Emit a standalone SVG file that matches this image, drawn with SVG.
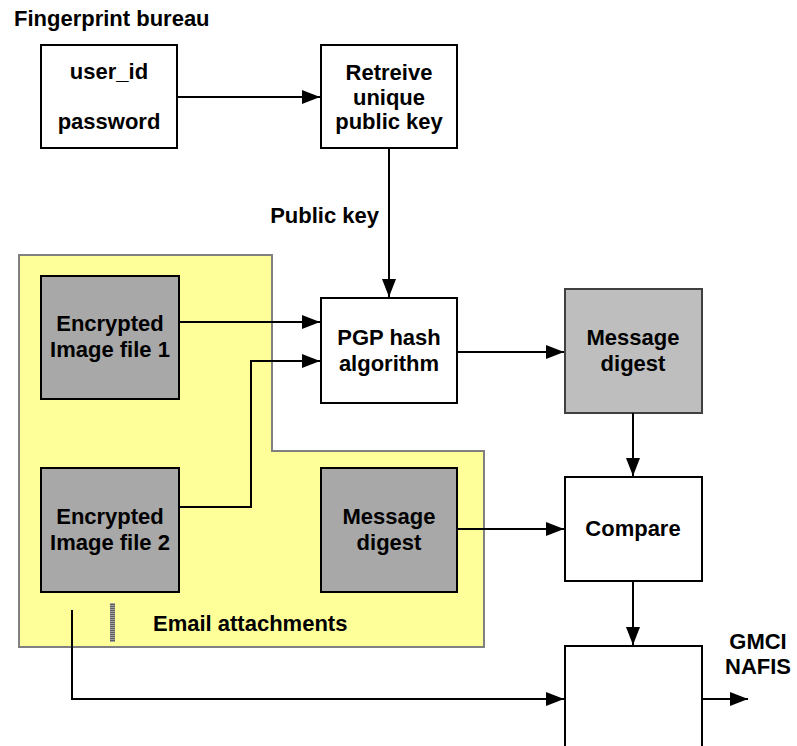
<svg xmlns="http://www.w3.org/2000/svg" width="797" height="746" viewBox="0 0 797 746">
<defs>
<style>
text{font-family:"Liberation Sans",Arial,sans-serif;font-weight:bold;font-size:22px;fill:#000}
.c{text-anchor:middle}
.box{fill:#fff;stroke:#000;stroke-width:2}
.enc{fill:#a8a8a8;stroke:#000;stroke-width:2}
.md{fill:#bebebe;stroke:#404040;stroke-width:2}
.ln{fill:none;stroke:#000;stroke-width:2}
</style>
<marker id="ah" viewBox="0 0 18 14" refX="18" refY="7" markerWidth="18" markerHeight="14" markerUnits="userSpaceOnUse" orient="auto">
<path d="M0,0 L18,7 L0,14 Z" fill="#000"/>
</marker>
<pattern id="hatch" width="5" height="2" patternUnits="userSpaceOnUse">
<rect width="5" height="2" fill="#a0a0a0"/>
<rect width="5" height="1" fill="#606060"/>
</pattern>
</defs>
<rect width="797" height="746" fill="#fff"/>
<text x="14" y="26">Fingerprint bureau</text>
<g id="email">
<path d="M19,255 H272 V451 H484 V647 H19 Z" fill="#ffff99" stroke="#808080" stroke-width="2"/>
<rect x="110" y="603" width="5" height="39" fill="url(#hatch)"/>
<text x="153" y="631">Email attachments</text>
</g>
<g id="login">
<rect class="box" x="41" y="45" width="136" height="103"/>
<text class="c" x="109" y="79">user_id</text>
<text class="c" x="109" y="129">password</text>
</g>
<g id="retrieve">
<rect class="box" x="321" y="45" width="136" height="103"/>
<text class="c" x="389" y="80">Retreive</text>
<text class="c" x="389" y="105">unique</text>
<text class="c" x="389" y="129">public key</text>
</g>
<g id="enc1">
<rect class="enc" x="41" y="276" width="138" height="123"/>
<text class="c" x="110" y="331">Encrypted</text>
<text class="c" x="110" y="357">Image file 1</text>
</g>
<g id="enc2">
<rect class="enc" x="41" y="468" width="138" height="124"/>
<text class="c" x="110" y="524">Encrypted</text>
<text class="c" x="110" y="550">Image file 2</text>
</g>
<g id="digest1">
<rect class="enc" x="321" y="468" width="136" height="124"/>
<text class="c" x="389" y="524">Message</text>
<text class="c" x="389" y="550">digest</text>
</g>
<g id="pgp">
<rect class="box" x="321" y="298" width="136" height="105"/>
<text class="c" x="389" y="345">PGP hash</text>
<text class="c" x="389" y="371">algorithm</text>
</g>
<g id="digest2">
<rect class="md" x="565" y="289" width="137" height="124"/>
<text class="c" x="633" y="345">Message</text>
<text class="c" x="633" y="371">digest</text>
</g>
<g id="compare">
<rect class="box" x="565" y="477" width="137" height="104"/>
<text class="c" x="633" y="536">Compare</text>
</g>
<g id="nafis">
<rect class="box" x="565" y="646" width="137" height="120"/>
</g>
<g id="connectors">
<line class="ln" x1="177" y1="97" x2="320" y2="97" marker-end="url(#ah)"/>
<line class="ln" x1="389" y1="148" x2="389" y2="297" marker-end="url(#ah)"/>
<text x="379" y="223" text-anchor="end">Public key</text>
<line class="ln" x1="179" y1="322" x2="320" y2="322" marker-end="url(#ah)"/>
<path class="ln" d="M179,507 H251 V361 H320" marker-end="url(#ah)"/>
<line class="ln" x1="457" y1="352" x2="564" y2="352" marker-end="url(#ah)"/>
<line class="ln" x1="633" y1="413" x2="633" y2="476" marker-end="url(#ah)"/>
<line class="ln" x1="457" y1="529" x2="564" y2="529" marker-end="url(#ah)"/>
<line class="ln" x1="633" y1="581" x2="633" y2="645" marker-end="url(#ah)"/>
<path class="ln" d="M72,610 V699 H564" marker-end="url(#ah)"/>
<line class="ln" x1="702" y1="699" x2="748" y2="699" marker-end="url(#ah)"/>
<text class="c" x="758" y="649">GMCI</text>
<text class="c" x="758" y="674">NAFIS</text>
</g>
</svg>
